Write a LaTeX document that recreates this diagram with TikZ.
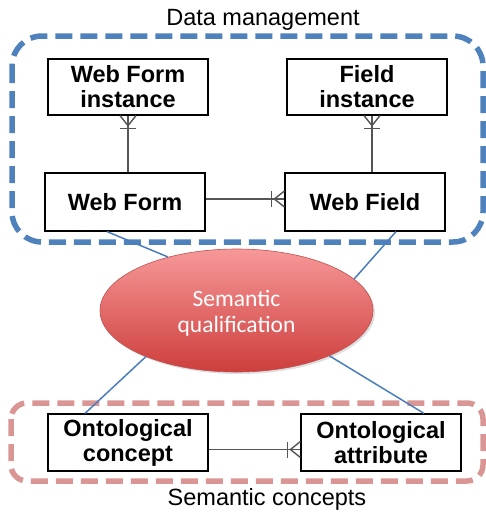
\documentclass[tikz,border=0pt]{standalone}
\usepackage{fontspec}
\setmainfont{Liberation Sans}
\newfontfamily\calib{Carlito}
\usetikzlibrary{calc,shapes.geometric,shadows}
\definecolor{frameblue}{RGB}{79,129,189}
\definecolor{framepink}{RGB}{218,150,148}
\definecolor{linkblue}{RGB}{74,126,187}
\definecolor{ertgray}{RGB}{85,85,85}
\newcommand\crowsfoot[2]{\begin{scope}[shift={(#1)},rotate=#2]
\draw[erline] (0,-8)--(10,0)--(0,8); \draw[erline] (13,-8)--(13,8);
\end{scope}}
\begin{document}
\begin{tikzpicture}[x=1pt,y=-1pt,
  entity/.style={draw=black,line width=1.2pt,fill=white,minimum width=160pt,inner sep=0pt,
     align=center,font=\bfseries\fontsize{23.5}{25}\selectfont},
  erline/.style={draw=ertgray,line width=1.4pt},
  link/.style={draw=linkblue,line width=1.5pt},
  title/.style={font=\fontsize{23.5}{26}\selectfont}]
\useasboundingbox (0,0) rectangle (486,512);
% frames
\draw[frameblue,line width=5.5pt,dash pattern=on 17pt off 8pt,rounded corners=30pt] (12,36) rectangle (483,242);
\draw[framepink,line width=5.5pt,dash pattern=on 17pt off 8pt,rounded corners=16pt] (11,403) rectangle (483,481);
\node[title] (tdm) at (263,20) {Data management};
\node[title] (tsc) at (267,499) {Semantic concepts};
% entities
\node[entity,minimum height=56pt] (wfi) at (128,87) {Web Form\\instance};
\node[entity,minimum height=56pt] (fi) at (367,87) {Field\\instance};
\node[entity,minimum height=58pt] (wf) at (125,202) {Web Form};
\node[entity,minimum height=58pt] (wfd) at (365,202) {Web Field};
\node[entity,minimum height=57pt] (oc) at (128,442.5) {Ontological\\concept};
\node[entity,minimum height=57pt] (oa) at (381,442.5) {Ontological\\attribute};
% ER connectors
\draw[erline] (wfi.south) -- (wfi.south |- wf.north);
\crowsfoot{wfi.south}{-90}
\draw[erline] ($(fi.south)+(5,0)$) coordinate (fis) -- (fis |- wfd.north);
\crowsfoot{fis}{-90}
\draw[erline] ($(wf.east)+(0,-3)$) coordinate (wfe) -- (wfe -| wfd.west) coordinate (wfdw);
\crowsfoot{wfdw}{180}
\draw[erline] ($(oc.east)+(0,7)$) coordinate (oce) -- (oce -| oa.west) coordinate (oaw);
\crowsfoot{oaw}{180}
% semantic qualification
\node[ellipse,minimum width=273pt,minimum height=123pt,inner sep=0pt,
  draw={rgb,255:red,190;green,80;blue,80},line width=0.6pt,
  top color={rgb,255:red,247;green,152;blue,152},bottom color={rgb,255:red,205;green,62;blue,60},
  drop shadow={opacity=0.25,shadow xshift=2pt,shadow yshift=-2pt},
  text=white,align=center,font=\calib\fontsize{23.5}{26}\selectfont] (sq) at (236.5,310.5) {};
\node[text=white,align=center,font=\calib\fontsize{23.5}{26}\selectfont] (sqt) at (236.5,313.5) {Semantic\\qualification};
\draw[link] ($(wf.south)+(-18,0)$) -- (sq.142);
\draw[link] ($(wfd.south)+(31,0)$) -- (sq.15);
\draw[link] ($(oc.north)+(-43,0)$) -- (sq.207);
\draw[link] ($(oa.north)+(43,0)$) -- (sq.-26);
\end{tikzpicture}
\end{document}
